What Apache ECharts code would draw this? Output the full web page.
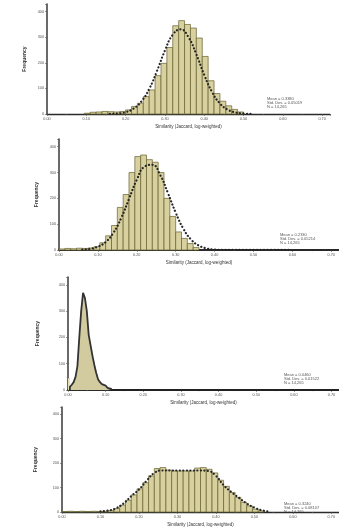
<!DOCTYPE html>
<html>
<head>
<meta charset="utf-8">
<script src="https://cdn.jsdelivr.net/npm/echarts@6/dist/echarts.min.js"></script>
<style>
  html, body { margin: 0; padding: 0; background: #fff; }
  #chart { width: 339px; height: 528px; }
</style>
</head>
<body>
<div id="chart"></div>
<script>
// histogram bins: start of first bin, bin width, counts
const binStart = [0.095, 0.0, 0.0, 0.0]
const binWidth = [0.015, 0.015, 0.005, 0.015]

const counts1 = [3, 7, 8, 10, 9, 8, 10,
  16, 29, 42, 68, 94, 150, 198, 260, 345, 365, 350, 336, 297, 225, 130, 80, 50, 32, 18, 8]
const counts2 = [4, 6, 5, 7, 6, 8,
  13, 28, 55, 95, 165, 215, 300, 362, 368, 350, 340, 300, 200, 130, 70, 45, 25, 10]
const counts3 = [45, 12, 20, 30, 50, 90, 200, 300, 370, 350, 300, 210, 170, 130, 95, 65, 40, 30, 22, 17, 12, 8, 4]
const counts4 = [2, 3, 2, 3, 2, 3, 2, 3,
  6, 14, 28, 48, 70, 95, 120, 148, 178, 182, 172, 168, 168, 168, 168, 180, 182, 175, 160, 130, 105, 80, 60, 40, 25, 12, 5]

// fitted curves
const curve1X = [0.16, 0.18, 0.20, 0.22, 0.24, 0.26, 0.28, 0.30, 0.32, 0.34, 0.36, 0.38, 0.40, 0.42, 0.44, 0.46, 0.48, 0.50, 0.52]
const curve1Y = [0.6, 2, 7, 21, 49, 98, 169, 248, 310, 331, 300, 233, 153, 86, 41, 17, 6, 2, 0.5]
const curve2X = [0.06, 0.08, 0.10, 0.12, 0.14, 0.16, 0.18, 0.20, 0.22, 0.24, 0.26, 0.28, 0.30, 0.32, 0.34, 0.36, 0.38, 0.40, 0.42, 0.72]
const curve2Y = [1.3, 4.4, 13, 31, 67, 124, 198, 272, 323, 330, 291, 221, 145, 82, 40, 17, 6, 2, 0.5, 0]
const curve4X = [0.10, 0.12, 0.14, 0.16, 0.18, 0.20, 0.22, 0.24, 0.26, 0.28, 0.30, 0.32, 0.34, 0.36, 0.38, 0.40, 0.42, 0.44, 0.46, 0.48, 0.50, 0.52, 0.54]
const curve4Y = [3, 6, 15, 35, 65, 92, 128, 160, 170, 170, 170, 170, 170, 170, 168, 148, 110, 82, 58, 35, 18, 7, 2]

const xTicks = [0, 0.1, 0.2, 0.3, 0.4, 0.5, 0.6, 0.7]
const yTicks = [0, 100, 200, 300, 400]

const statsText = [
  "Mean = 0.3380\nStd. Dev. = 0.05019\nN = 14,265",
  "Mean = 0.2330\nStd. Dev. = 0.05214\nN = 14,265",
  "Mean = 0.0460\nStd. Dev. = 0.01522\nN = 14,265",
  "Mean = 0.3240\nStd. Dev. = 0.08107\nN = 14,265"
]
const xTitle = "Similarity (Jaccard, log-weighted)"
const yTitle = "Frequency"

const FONT = "Liberation Sans"

const toBins = (i, counts) =>
  counts.map((c, k) => [binStart[i] + k * binWidth[i], binStart[i] + (k + 1) * binWidth[i], c])

const renderBar = (params, api) => {
  const a = api.coord([api.value(0), api.value(2)])
  const b = api.coord([api.value(1), 0])
  return {
    type: "rect",
    shape: { x: a[0], y: a[1], width: b[0] - a[0], height: b[1] - a[1] },
    style: { fill: "#d8d09e", stroke: "#66612f", lineWidth: 0.7 }
  }
}

const grids = [
  { left: 47, top: 4, width: 283, height: 110 },
  { left: 59, top: 139, width: 281, height: 111 },
  { left: 68, top: 277, width: 277, height: 113 },
  { left: 62, top: 407, width: 283, height: 113 }
]
const yNameGap = [20, 20, 28, 24]

const xAxes = grids.map((g, i) => ({
  type: "value", gridIndex: i, min: 0, max: 0.72, interval: 0.1,
  name: xTitle, nameLocation: "middle", nameGap: 10,
  nameTextStyle: { fontSize: 4.5, color: "#333", fontFamily: FONT },
  axisLine: { lineStyle: { color: "#2b2b2b", width: i === 1 || i === 2 ? 2 : 1.4 } },
  axisTick: { length: 2, lineStyle: { color: "#555", width: 0.6 } },
  minorTick: { show: true, splitNumber: 2, length: 1.2, lineStyle: { color: "#777", width: 0.5 } },
  splitLine: { show: false },
  axisLabel: {
    fontSize: 3.8, color: "#555", margin: 3, fontFamily: FONT, showMaxLabel: false,
    formatter: v => xTicks.includes(Math.round(v * 10) / 10) ? v.toFixed(2) : ""
  }
}))

const yAxes = grids.map((g, i) => ({
  type: "value", gridIndex: i, min: 0, max: 430, interval: 100,
  name: yTitle, nameLocation: "middle", nameGap: yNameGap[i], nameRotate: 90,
  nameTextStyle: { fontSize: 5, color: "#333", fontWeight: "bold", fontFamily: FONT },
  axisLine: { show: true, lineStyle: { color: "#444", width: 1.6 } },
  axisTick: { show: true, length: 2, lineStyle: { color: "#555", width: 0.6 } },
  minorTick: { show: true, splitNumber: 2, length: 1.2, lineStyle: { color: "#777", width: 0.5 } },
  splitLine: { show: false },
  axisLabel: {
    fontSize: 3.8, color: "#555", margin: 3, fontFamily: FONT, showMaxLabel: false,
    formatter: v => yTicks.includes(v) ? String(v) : ""
  }
}))

const dotted = { color: "#262626", width: 2.2, type: [0.1, 3.4], cap: "round" }

const curveSeries = (i, xs, ys) => ({
  type: "line", xAxisIndex: i, yAxisIndex: i, smooth: true, symbol: "none", z: 5,
  lineStyle: dotted, data: xs.map((x, k) => [x, ys[k]])
})

const barSeries = (i, counts) => ({
  type: "custom", xAxisIndex: i, yAxisIndex: i, renderItem: renderBar,
  encode: { x: [0, 1], y: 2 }, data: toBins(i, counts)
})

// panel 3: stepped outline, first bin drawn apart (light, no outline)
const step3 = toBins(2, counts3).slice(1).map(b => [b[0], b[2]])
step3.push([binStart[2] + counts3.length * binWidth[2], 0])
step3.unshift([binStart[2] + binWidth[2], 0])

const statsPos = [[267, 97], [280, 233], [284, 373], [284, 502]]

const option = {
  backgroundColor: "#fff",
  animation: false,
  textStyle: { fontFamily: FONT },
  grid: grids,
  xAxis: xAxes,
  yAxis: yAxes,
  graphic: statsText.map((t, i) => ({
    type: "text", left: statsPos[i][0], top: statsPos[i][1],
    style: { text: t, fontSize: 4, lineHeight: 4, fill: "#555", fontFamily: FONT }
  })),
  series: [
    barSeries(0, counts1),
    curveSeries(0, curve1X, curve1Y),
    barSeries(1, counts2),
    curveSeries(1, curve2X, curve2Y),
    {
      type: "custom", xAxisIndex: 2, yAxisIndex: 2,
      renderItem: (params, api) => {
        const a = api.coord([api.value(0), api.value(2)])
        const b = api.coord([api.value(1), 0])
        return { type: "rect", shape: { x: a[0], y: a[1], width: b[0] - a[0], height: b[1] - a[1] },
          style: { fill: "#e3ddb8" } }
      },
      encode: { x: [0, 1], y: 2 }, data: toBins(2, counts3).slice(0, 1)
    },
    {
      type: "line", xAxisIndex: 2, yAxisIndex: 2, step: "end", symbol: "none",
      lineStyle: { color: "#333", width: 1.8 },
      areaStyle: { color: "#d2cba0", opacity: 1 },
      data: step3
    },
    {
      type: "line", xAxisIndex: 2, yAxisIndex: 2, symbol: "none",
      lineStyle: { color: "#222", width: 2 },
      data: [[0.115, 0], [0.72, 0]]
    },
    barSeries(3, counts4),
    curveSeries(3, curve4X, curve4Y)
  ]
}

const chart = echarts.init(document.getElementById("chart"))
chart.setOption(option)
window.addEventListener("resize", () => chart.resize())
</script>
</body>
</html>
